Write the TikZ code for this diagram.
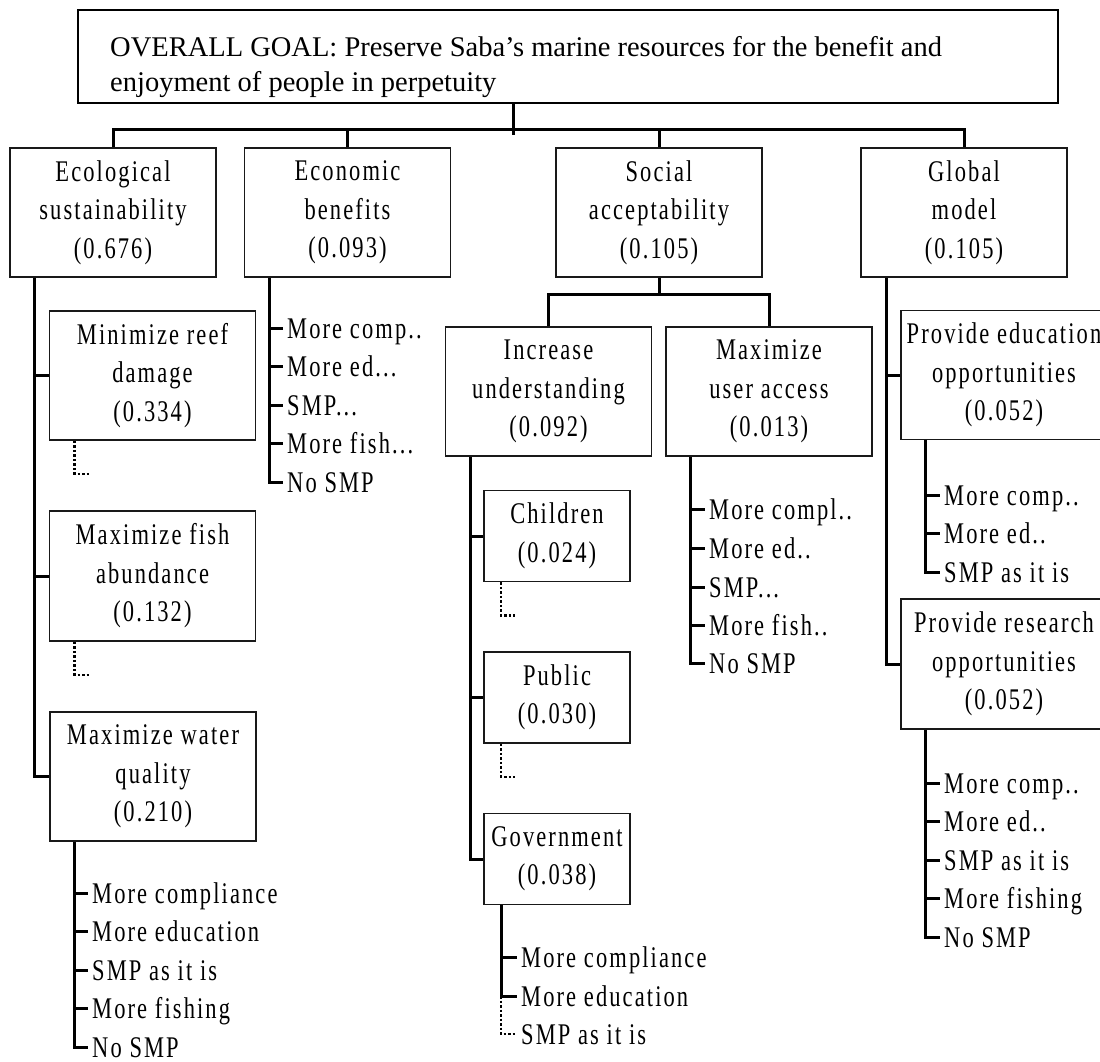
\documentclass[tikz,border=0pt]{standalone}
\usepackage{fontspec}
\setmainfont{Liberation Serif}
\newfontfamily\nfont[FakeStretch=0.75,LetterSpace=7]{Liberation Serif}
\usetikzlibrary{calc}
\begin{document}
\begin{tikzpicture}[x=1pt,y=-1pt,
  box/.style={draw=black!90, line width=1.8pt, rectangle, inner sep=0pt,
    minimum width=206pt, minimum height=129pt, align=center,
    font=\nfont\fontsize{30}{38.5}\selectfont},
  smallbox/.style={box, minimum width=146pt, minimum height=91pt},
  goalbox/.style={draw=black, line width=2.8pt, rectangle, inner sep=0pt,
    minimum width=980pt, minimum height=93pt},
  opt/.style={anchor=west, inner xsep=4pt, inner ysep=0pt, text height=20pt,
    text depth=0pt, font=\nfont\fontsize{30}{38.5}\selectfont},
  conn/.style={line width=3pt},
  dotc/.style={line width=2.5pt, dash pattern=on 2.5pt off 2pt}]
\useasboundingbox (0,0) rectangle (1100,1062);

% goal
\node[goalbox] (goal) at (568,56.5) {};
\node[anchor=north west, align=left, inner sep=0pt,
  font=\fontsize{28.5}{35}\selectfont] (goaltext) at (110,36)
  {OVERALL GOAL: Preserve Saba’s marine resources for the benefit and\\enjoyment of people in perpetuity};

% level 1
\node[box] (eco)  at (113,212.5)   {Ecological\\sustainability\\(0.676)};
\node[box] (econ) at (347.5,212.5) {Economic\\benefits\\(0.093)};
\node[box] (soc)  at (659,212.5)   {Social\\acceptability\\(0.105)};
\node[box] (glob) at (964,212.5)   {Global\\model\\(0.105)};

% level 2
\node[box] (reef)  at (152.5,375.5) {Minimize reef\\damage\\(0.334)};
\node[box, minimum height=130pt] (fish) at (152.5,576) {Maximize fish\\abundance\\(0.132)};
\node[box] (water) at (153,776.5) {Maximize water\\quality\\(0.210)};
\node[box] (incr)  at (548.5,391.5) {Increase\\understanding\\(0.092)};
\node[box] (maxu)  at (769,391.5) {Maximize\\user access\\(0.013)};
\node[box] (proved) at (1004,375) {Provide education\\opportunities\\(0.052)};
\node[box, minimum height=130pt] (provres) at (1004,664) {Provide research\\opportunities\\(0.052)};

% level 3
\node[smallbox] (child) at (557,536)   {Children\\(0.024)};
\node[smallbox] (pub)   at (557,697.5) {Public\\(0.030)};
\node[smallbox] (gov)   at (557,859)   {Government\\(0.038)};

% option lists
\node[opt] (ec1) at (283,328)   {More comp..};
\node[opt] (ec2) at (283,366.5) {More ed...};
\node[opt] (ec3) at (283,405)   {SMP...};
\node[opt] (ec4) at (283,443.5) {More fish...};
\node[opt] (ec5) at (283,482)   {No SMP};

\node[opt] (mu1) at (705,509) {More compl..};
\node[opt] (mu2) at (705,548) {More ed..};
\node[opt] (mu3) at (705,587) {SMP...};
\node[opt] (mu4) at (705,625) {More fish..};
\node[opt] (mu5) at (705,663) {No SMP};

\node[opt] (w1) at (88,893)    {More compliance};
\node[opt] (w2) at (88,931.5)  {More education};
\node[opt] (w3) at (88,970)    {SMP as it is};
\node[opt] (w4) at (88,1008.5) {More fishing};
\node[opt] (w5) at (88,1047)   {No SMP};

\node[opt] (g1) at (517,957)  {More compliance};
\node[opt] (g2) at (517,996)  {More education};
\node[opt] (g3) at (517,1034) {SMP as it is};

\node[opt] (pe1) at (940,495) {More comp..};
\node[opt] (pe2) at (940,533) {More ed..};
\node[opt] (pe3) at (940,572) {SMP as it is};

\node[opt] (pr1) at (940,783)   {More comp..};
\node[opt] (pr2) at (940,821.5) {More ed..};
\node[opt] (pr3) at (940,860)   {SMP as it is};
\node[opt] (pr4) at (940,898.5) {More fishing};
\node[opt] (pr5) at (940,937)   {No SMP};

% top connectors
\coordinate (bar) at (0,130);
\coordinate (gdrop) at (513,135);
\draw[conn] (gdrop |- goal.south) -- (gdrop);
\draw[conn] (eco.north) |- (glob.north |- bar) -- (glob.north);
\draw[conn] (econ.north) -- (econ.north |- bar);
\draw[conn] (soc.north) -- (soc.north |- bar);

% social sub bar
\coordinate (sbar) at (0,294);
\draw[conn] (incr.north) |- (maxu.north |- sbar) -- (maxu.north);
\draw[conn] (soc.south) -- (soc.south |- sbar);

% ecological trunk
\coordinate (ecot) at ($(eco.south west)+(25,0)$);
\draw[conn] (ecot) |- (water.west);
\foreach \n in {reef,fish} \draw[conn] (\n.west -| ecot) -- (\n.west);
\draw[dotc] ($(reef.south west)+(26,0)$) |- ++(14,33);
\draw[dotc] ($(fish.south west)+(26,0)$) |- ++(14,33);

% water options
\coordinate (wt) at ($(water.south west)+(25,0)$);
\draw[conn] (wt) |- (w5.west);
\foreach \n in {w1,w2,w3,w4} \draw[conn] (\n.west -| wt) -- (\n.west);

% economic options
\coordinate (ect) at ($(econ.south west)+(26,0)$);
\draw[conn] (ect) |- (ec5.west);
\foreach \n in {ec1,ec2,ec3,ec4} \draw[conn] (\n.west -| ect) -- (\n.west);

% increase understanding
\coordinate (it) at ($(incr.south west)+(26,0)$);
\draw[conn] (it) |- (gov.west);
\foreach \n in {child,pub} \draw[conn] (\n.west -| it) -- (\n.west);
\draw[dotc] ($(child.south west)+(18,0)$) |- ++(14,33);
\draw[dotc] ($(pub.south west)+(18,0)$) |- ++(14,33);

% government options
\coordinate (gt) at ($(gov.south west)+(18,0)$);
\draw[conn] (gt) -- (gt |- g2.west);
\foreach \n in {g1,g2} \draw[conn] (\n.west -| gt) -- (\n.west);
\draw[dotc] (gt |- g2.west) |- (g3.west);

% maximize user access options
\coordinate (mt) at ($(maxu.south west)+(25,0)$);
\draw[conn] (mt) |- (mu5.west);
\foreach \n in {mu1,mu2,mu3,mu4} \draw[conn] (\n.west -| mt) -- (\n.west);

% global trunk
\coordinate (glt) at ($(glob.south west)+(26,0)$);
\draw[conn] (glt) |- (provres.west);
\draw[conn] (proved.west -| glt) -- (proved.west);

% provide education options
\coordinate (pet) at ($(proved.south west)+(25,0)$);
\draw[conn] (pet) |- (pe3.west);
\foreach \n in {pe1,pe2} \draw[conn] (\n.west -| pet) -- (\n.west);

% provide research options
\coordinate (prt) at ($(provres.south west)+(25,0)$);
\draw[conn] (prt) |- (pr5.west);
\foreach \n in {pr1,pr2,pr3,pr4} \draw[conn] (\n.west -| prt) -- (\n.west);
\end{tikzpicture}
\end{document}
